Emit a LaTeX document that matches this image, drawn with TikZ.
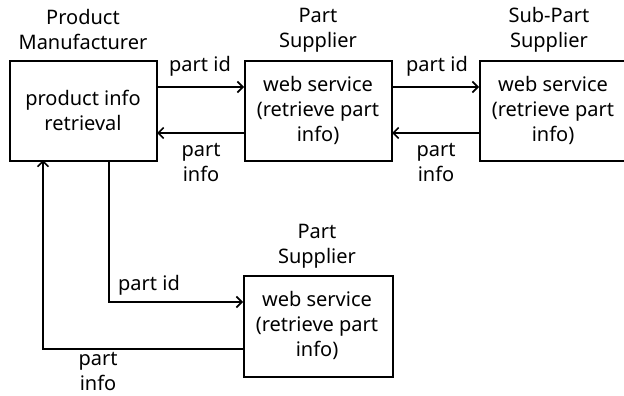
\documentclass[tikz,border=0pt]{standalone}
\usepackage{fontspec}
\setmainfont{Noto Sans}
\usetikzlibrary{arrows.meta}
\begin{document}
\begin{tikzpicture}[x=1pt,y=-1pt,
  box/.style={draw,line width=1.8pt,minimum width=147pt,minimum height=100pt,anchor=north west,inner sep=0pt},
  lbl/.style={align=center,font=\fontsize{20}{25}\selectfont,inner sep=0pt},
  flow/.style={line width=1.8pt,-{Straight Barb[length=5.5pt,width=11pt,line width=1.6pt]}},
  link/.style={line width=1.8pt}]
\useasboundingbox (0,0) rectangle (624,396);
% boxes
\node[box] (pm) at (9,60) {};
\node[box] (ps) at (244,60) {};
\node[box,minimum width=145pt] (sp) at (479,60) {};
\node[box,minimum width=149pt,minimum height=101pt] (ps2) at (243,275) {};
% box contents
\node[lbl] at (83,110) {product info\\retrieval};
\node[lbl] at (318,110) {web service\\(retrieve part\\info)};
\node[lbl] at (553,110) {web service\\(retrieve part\\info)};
\node[lbl] at (317,325) {web service\\(retrieve part\\info)};
% titles
\node[lbl] at (83,30) {Product\\Manufacturer};
\node[lbl] at (318,30) {Part\\Supplier};
\node[lbl] at (549,30) {Sub-Part\\Supplier};
\node[lbl] at (317,246) {Part\\Supplier};
% coordinates for connector ends
\coordinate (a1) at (157,87);  \coordinate (a2) at (244,87);
\coordinate (b1) at (244,133); \coordinate (b2) at (157,133);
\coordinate (c1) at (392,87);  \coordinate (c2) at (479,87);
\coordinate (d1) at (479,133); \coordinate (d2) at (392,133);
\coordinate (e1) at (109,160); \coordinate (e2) at (109,302); \coordinate (e3) at (243,302);
\coordinate (f1) at (243,349); \coordinate (f2) at (43,349); \coordinate (f3) at (43,160);
% connectors
\draw[flow] (a1) -- (a2);
\draw[flow] (b1) -- (b2);
\draw[flow] (c1) -- (c2);
\draw[flow] (d1) -- (d2);
\draw[flow] (e1) -- (e2) -- (e3);
\draw[flow] (f1) -- (f2) -- (f3);
% connector labels
\node[lbl] at (200,66) {part id};
\node[lbl] at (201,163) {part\\info};
\node[lbl] at (437,66) {part id};
\node[lbl] at (436,163) {part\\info};
\node[lbl] at (149,285) {part id};
\node[lbl] at (98,372) {part\\info};
\end{tikzpicture}
\end{document}
